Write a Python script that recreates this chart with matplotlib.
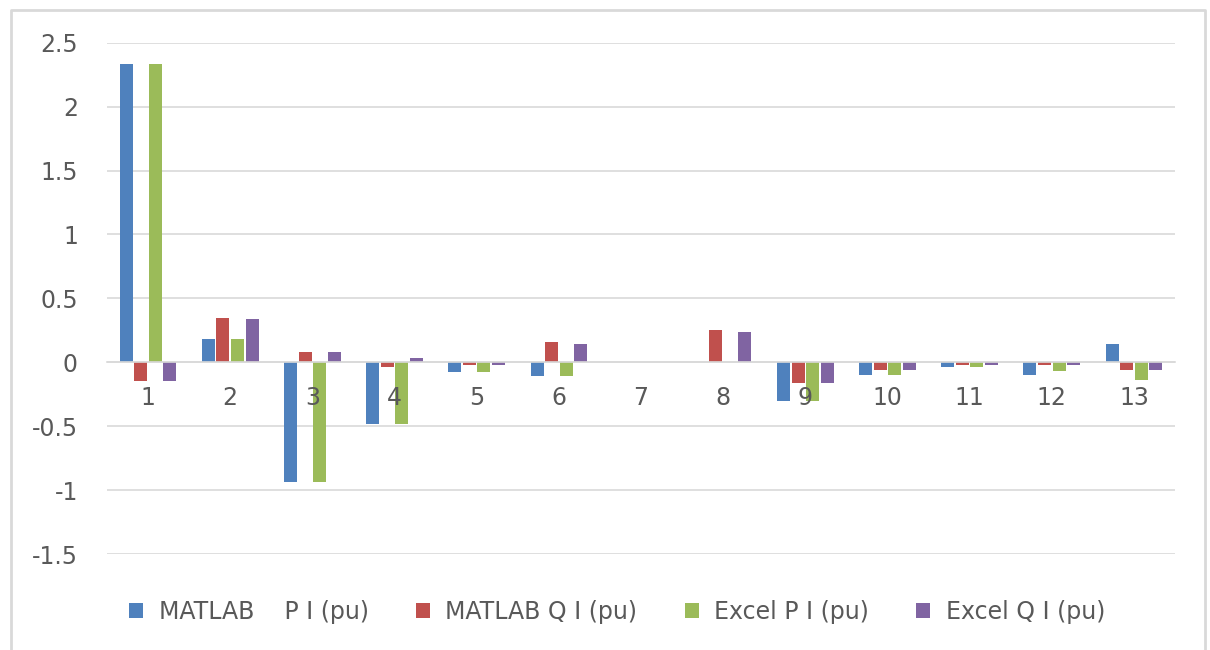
import matplotlib.pyplot as plt
import numpy as np
from matplotlib.lines import Line2D

categories = [str(i) for i in range(1, 14)]
series_names = ['MATLAB    P I (pu)', 'MATLAB Q I (pu)', 'Excel P I (pu)', 'Excel Q I (pu)']
matlab_p = [2.33, 0.18, -0.94, -0.48, -0.075, -0.11, 0.0, 0.0, -0.30, -0.10, -0.04, -0.10, 0.14]
matlab_q = [-0.15, 0.35, 0.08, -0.04, -0.02, 0.16, 0.0, 0.25, -0.16, -0.06, -0.02, -0.02, -0.06]
excel_p = [2.33, 0.18, -0.94, -0.48, -0.075, -0.11, 0.0, 0.0, -0.30, -0.10, -0.04, -0.065, -0.14]
excel_q = [-0.15, 0.34, 0.08, 0.035, -0.02, 0.14, 0.0, 0.24, -0.16, -0.06, -0.02, -0.02, -0.06]
colors = ['#4F81BD', '#C0504D', '#9BBB59', '#8064A2']

plt.rcParams['font.family'] = ['DejaVu Sans']
text_color = '#595959'
grid_color = '#D9D9D9'

fig = plt.figure(figsize=(12.1, 6.5), dpi=100)
# chart frame (left, top, right edges)
W, H = 1210, 650
fx = [11 / W, 11 / W, 1205 / W, 1205 / W]
fy = [0, 1 - 10 / H, 1 - 10 / H, 0]
fig.add_artist(Line2D(fx, fy, transform=fig.transFigure, color=grid_color, linewidth=2))

ax = fig.add_axes([107 / W, 1 - 554 / H, 1068 / W, (554 - 42.7) / H])

x = np.arange(len(categories))
slot = 0.177
width = 0.159
all_series = [matlab_p, matlab_q, excel_p, excel_q]
for k, (vals, name, c) in enumerate(zip(all_series, series_names, colors)):
    ax.bar(x + (k - 1.5) * slot, vals, width, color=c, label=name,
           linewidth=0, zorder=2)

ax.set_xlim(-0.5, len(categories) - 0.5)
ax.set_ylim(-1.5, 2.5)
ax.set_yticks(np.arange(-1.5, 2.51, 0.5))
ax.set_yticklabels(['-1.5', '-1', '-0.5', '0', '0.5', '1', '1.5', '2', '2.5'])
ax.yaxis.grid(True, color=grid_color, linewidth=1.2)
ax.set_axisbelow(True)

for side in ['top', 'right', 'left']:
    ax.spines[side].set_visible(False)
ax.spines['bottom'].set_position(('data', 0))
ax.spines['bottom'].set_color(grid_color)
ax.spines['bottom'].set_linewidth(1.2)
ax.xaxis.set_zorder(3)

ax.set_xticks(x)
ax.set_xticklabels(categories)
ax.tick_params(axis='x', length=0, pad=17, labelsize=17, labelcolor=text_color)
ax.tick_params(axis='y', length=0, pad=21, labelsize=17, labelcolor=text_color)

leg = fig.legend(loc='center', bbox_to_anchor=(0.51, 1 - 612 / H), ncol=4,
                 frameon=False, fontsize=17, handlelength=0.6, handleheight=0.6,
                 handletextpad=0.65, columnspacing=2.0)
for t in leg.get_texts():
    t.set_color(text_color)

fig.savefig('out.png', dpi=100)
